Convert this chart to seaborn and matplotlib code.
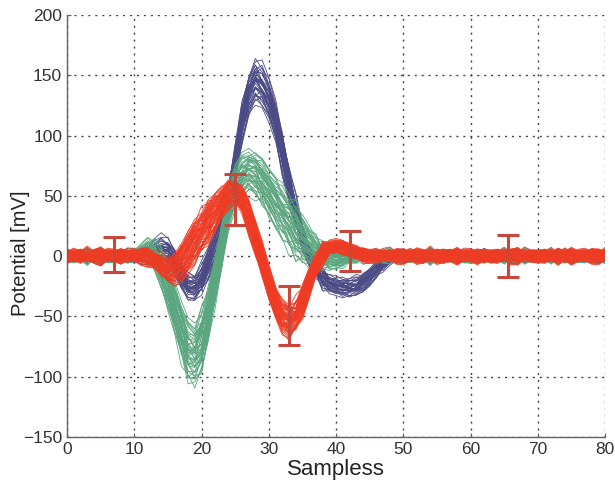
import numpy as np
import pandas as pd
import seaborn as sns
import matplotlib.pyplot as plt

# samples 0..80
samples = list(range(81))

# mean waveform of each cluster (mV)
blue_mean = [0, 0, 0, 0, 0, 0, 0, 0, 0, 0,
             0, 0, 1, 4, 6, 4, -4, -16, -25, -26,
             -19, -6, 8, 22, 45, 78, 110, 134, 145, 141,
             130, 112, 86, 60, 36, 15, 1, -10, -18, -23,
             -25, -26, -26, -25, -22, -17, -11, -6, -2, 0,
             0, 0, 0, 0, 0, 0, 0, 0, 0, 0,
             0, 0, 0, 0, 0, 0, 0, 0, 0, 0,
             0, 0, 0, 0, 0, 0, 0, 0, 0, 0,
             0]
green_mean = [0, 0, 0, 0, 0, 0, 0, 0, 0, 0,
              1, 3, 5, 1, -10, -25, -43, -62, -78, -82,
              -70, -48, -20, 8, 40, 58, 67, 70, 68, 62,
              53, 44, 36, 28, 21, 14, 8, 3, 0, -2,
              -3, -2, -1, 0, 0, 0, 0, 0, 0, 0,
              0, 0, 0, 0, 0, 0, 0, 0, 0, 0,
              0, 0, 0, 0, 0, 0, 0, 0, 0, 0,
              0, 0, 0, 0, 0, 0, 0, 0, 0, 0,
              0]
red_mean = [0, 0, 0, 0, 0, 0, 0, 0, 0, 0,
            0, 0, -1, -4, -8, -12, -11, -5, 3, 12,
            20, 28, 36, 44, 51, 53, 47, 33, 15, -3,
            -22, -39, -50, -54, -50, -38, -22, -8, 2, 7,
            8, 7, 5, 3, 1, 0, 0, 0, 0, 0,
            0, 0, 0, 0, 0, 0, 0, 0, 0, 0,
            0, 0, 0, 0, 0, 0, 0, 0, 0, 0,
            0, 0, 0, 0, 0, 0, 0, 0, 0, 0,
            0]

# spread of the traces around the mean, per sample
blue_spread = [3] * 12 + [4, 6, 7, 7, 7, 7, 7, 7, 8, 9,
                          10, 10, 10, 10, 11, 11, 12, 12, 12, 11,
                          11, 10, 9, 7, 6, 5, 5, 5, 5, 5,
                          5, 5, 5, 5, 4, 4] + [3] * 33
green_spread = [3] * 11 + [4, 6, 8, 10, 12, 14, 16, 17, 17, 16,
                           15, 13, 12, 12, 12, 12, 12, 12, 12, 13,
                           14, 15, 15, 14, 13, 11, 9, 7, 6, 5,
                           4] + [3] * 39
red_spread = [3.5] * 12 + [4, 5, 6, 7, 8, 10, 11, 12, 12, 12,
                           11, 9, 7, 6, 7, 9, 10, 10, 10, 9,
                           8, 9, 9, 9, 8, 7, 5, 4, 4, 4] + [3.5] * 39

# baseline jitter patterns
wiggle1 = [0, 1, -1, 2, 0, -2, 1, 1, -1, 0,
           2, -1, -2, 1, 0, 2, -1, 1, -2, 0,
           1, -1, 2, 0, -1, 1, -2, 0, 2, -1,
           1, 0, -2, 1, 2, -1, 0, 1, -2, 1,
           0, 2, -1, -1, 1, 0, -2, 2, 1, -1,
           0, 1, -2, 0, 2, 1, -1, 0, -2, 1,
           2, 0, -1, 1, -1, 2, 0, -2, 1, 0,
           1, -1, 2, -1, 0, -2, 1, 1, -1, 0,
           2]
wiggle2 = [1, -1, 0, -2, 1, 2, -1, 0, 1, -2,
           0, 2, 1, -1, -2, 0, 1, 2, -1, 1,
           -2, 0, 1, -1, 2, 0, -1, 2, 1, -2,
           0, -1, 1, 2, -2, 0, 1, -1, 2, 0,
           -1, 1, 0, -2, 2, 1, -1, 0, -2, 1,
           2, -1, 0, 1, -2, 2, 0, -1, 1, -1,
           0, 2, -2, 1, 0, -1, 2, 1, -2, 0,
           1, 0, -1, 2, -2, 1, 0, -1, 1, 2,
           -1]

# per-trace position inside each cluster's band
blue_pos = [-1.4, 0.3, -0.6, 1.2, 0.0, -0.2, 0.8, -1.0, 0.5, -0.4,
            1.5, -0.8, 0.1, 0.6, -1.2, 0.9, -0.1, 0.4, -0.5, 1.1,
            -0.9, 0.2, -0.3, 0.7, -1.5, 1.3, -0.7, 0.05, 0.35, -0.25,
            0.55, -0.45, 0.95, -1.1, 0.15, -0.05]
green_pos = [0.4, -1.3, 0.9, -0.2, 1.4, -0.7, 0.1, -1.0, 0.6, -0.4,
             1.1, -0.9, 0.3, -0.1, 0.8, -1.5, 0.5, -0.6, 1.3, 0.0,
             -0.3, 0.7, -1.2, 0.2, 1.0, -0.8, 0.45, -0.45, 1.2, -1.1,
             0.15, -0.55, 0.65, -0.25, 1.5, -0.95, 0.35, -0.05, 0.85, -1.4,
             0.25, -0.65, 0.55, -0.35, 0.05]
red_pos = [-0.5, 0.8, -1.2, 0.3, 1.4, -0.1, 0.6, -0.9, 0.0, 1.1,
           -0.4, 0.2, -1.5, 0.9, -0.7, 0.5, -0.2, 1.3, -1.0, 0.4,
           0.1, -0.6, 0.7, -1.3, 1.0, -0.3, 0.35, -0.85, 1.2, -0.15,
           0.55, -1.1, 0.25, -0.45, 1.5, -0.75, 0.05, 0.95, -0.95, 0.45,
           -0.25, 0.65, -1.4, 0.15, 0.85, -0.55, 1.25, -0.05, 0.75, -0.65,
           0.3, -0.35, 1.05, -1.05, 0.6]
mix1 = [0.8, -0.5, 0.2, -0.9, 0.6, -0.1, 0.4, -0.7, 1.0, -0.3,
        0.1, -0.8, 0.7, -0.4, 0.9, -0.6, 0.3, -1.0, 0.5, -0.2,
        0.0, 0.6, -0.9, 0.2, -0.5, 0.8, -0.3, 0.4, -0.7, 1.0,
        -0.1, 0.3, -0.6, 0.9, -0.4, 0.7, -0.8, 0.1, -0.2, 0.5,
        0.9, -0.7, 0.3, -0.5, 0.6, -1.0, 0.2, -0.3, 0.8, -0.6,
        0.4, -0.9, 0.1, -0.4, 0.7, -0.2, 1.0, -0.8, 0.5, -0.1]
mix2 = [-0.6, 0.9, 0.3, -0.2, -0.8, 0.5, 1.0, -0.4, 0.1, 0.7,
        -0.9, 0.2, -0.5, 0.8, 0.0, -0.7, 0.6, 0.3, -1.0, 0.4,
        0.5, -0.3, 0.9, -0.6, 0.2, -0.1, -0.8, 0.7, 0.4, -0.5,
        1.0, -0.2, 0.6, -0.9, 0.3, 0.8, -0.4, -0.7, 0.1, 0.5,
        -0.3, 0.7, -1.0, 0.4, 0.9, -0.6, 0.2, -0.1, -0.8, 0.6,
        0.3, -0.5, 0.8, -0.2, -0.9, 0.1, 0.5, -0.7, 1.0, -0.4]

# error bars (mean +/- std) at selected samples
err_x = [7, 25, 33, 42, 65.5]
err_y = [1, 47, -49, 4, 0]
err_sd = [14.5, 21.5, 24.5, 16.5, 17.5]

clusters = {
    "Cluster 1": (blue_mean, blue_spread, blue_pos),
    "Cluster 2": (green_mean, green_spread, green_pos),
    "Cluster 3": (red_mean, red_spread, red_pos),
}
palette = {"Cluster 1": "#4a4a84", "Cluster 2": "#5aa67e", "Cluster 3": "#ef3b24"}

rows = []
w1 = np.array(wiggle1, float)
w2 = np.array(wiggle2, float)
for name, (mean, spread, pos) in clusters.items():
    mean = np.array(mean, float)
    spread = np.array(spread, float)
    jitter = 0.8 + 0.12 * spread
    for i, a in enumerate(pos):
        trace = mean + a * spread + jitter * (mix1[i] * w1 + mix2[i] * w2)
        for s, v in zip(samples, trace):
            rows.append((name, f"{name}-{i}", s, v))
df = pd.DataFrame(rows, columns=["cluster", "trace", "sample", "value"])

sns.set_style("white")
plt.rcParams["font.family"] = ["Liberation Sans", "DejaVu Sans"]

fig, ax = plt.subplots(figsize=(6.15, 4.87), dpi=100)
fig.subplots_adjust(left=0.109, right=0.984, bottom=0.103, top=0.969)

sns.lineplot(data=df, x="sample", y="value", hue="cluster", units="trace",
             estimator=None, palette=palette, linewidth=0.6, legend=False,
             hue_order=["Cluster 1", "Cluster 2", "Cluster 3"], ax=ax)

ax.errorbar(err_x, err_y, yerr=err_sd, fmt="none", ecolor="#c8463a",
            elinewidth=2.2, capsize=8, capthick=2.2, zorder=5)

ax.set_xlim(0, 80)
ax.set_ylim(-150, 200)
ax.set_xticks(range(0, 81, 10))
ax.set_yticks(range(-150, 201, 50))
ax.set_xticklabels([str(t) for t in range(0, 81, 10)])
ax.set_yticklabels([str(t).replace("-", "\u2212") for t in range(-150, 201, 50)])
ax.grid(True, color="#444444", linestyle=(0, (1.5, 3.5)), linewidth=1.0)
ax.set_axisbelow(True)

for side in ["top", "right"]:
    ax.spines[side].set_visible(False)
for side in ["left", "bottom"]:
    ax.spines[side].set_color("#6b6060")
    ax.spines[side].set_linewidth(1.0)
ax.tick_params(direction="in", length=3, width=0.8, color="#6b6060",
               labelsize=12.5, labelcolor="#333333", bottom=True, left=True)

ax.set_xlabel("Sampless", fontsize=16, color="#222222", labelpad=2)
ax.set_ylabel("Potential [mV]", fontsize=14.5, color="#222222")
ax.yaxis.set_label_coords(-0.069, 0.436)

fig.savefig("out.png", dpi=100)
